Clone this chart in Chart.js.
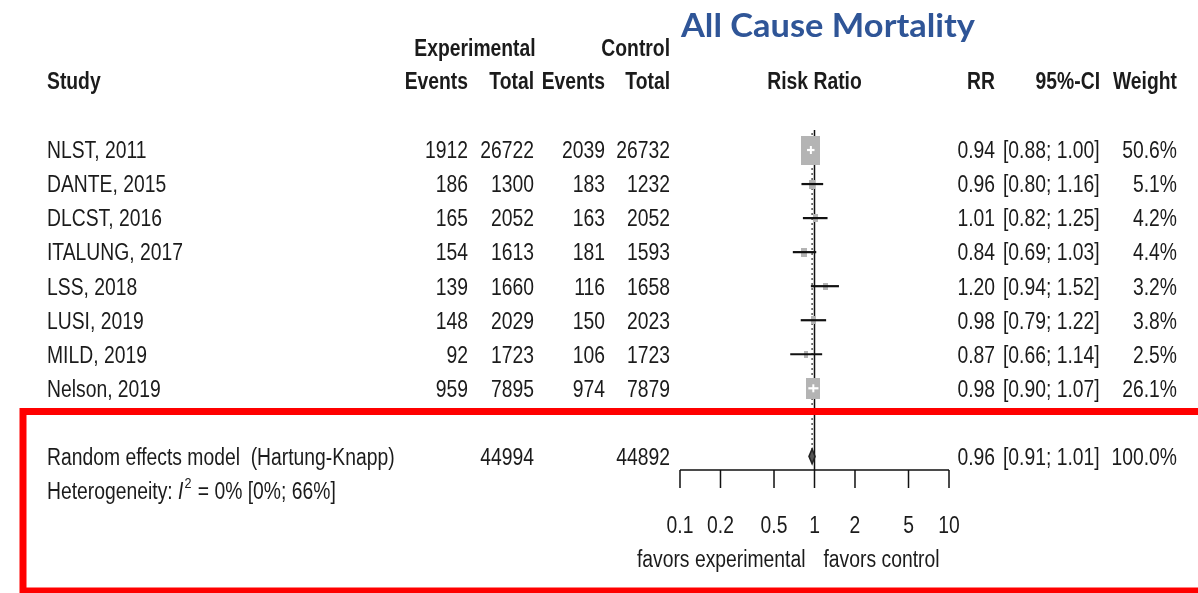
<!DOCTYPE html>
<html>
<head>
<meta charset="utf-8">
<script src="https://cdn.jsdelivr.net/npm/chart.js@4.4.1/dist/chart.umd.min.js"></script>
<style>
  html, body { margin: 0; padding: 0; background: #fff; }
  #wrap { width: 1198px; height: 593px; position: relative; }
</style>
</head>
<body>
<div id="wrap"><canvas id="forest" width="1198" height="593"></canvas></div>
<script>
// ---- study data ----
const studies   = ['NLST, 2011', 'DANTE, 2015', 'DLCST, 2016', 'ITALUNG, 2017', 'LSS, 2018', 'LUSI, 2019', 'MILD, 2019', 'Nelson, 2019'];
const expEvents = [1912, 186, 165, 154, 139, 148, 92, 959];
const expTotal  = [26722, 1300, 2052, 1613, 1660, 2029, 1723, 7895];
const ctlEvents = [2039, 183, 163, 181, 116, 150, 106, 974];
const ctlTotal  = [26732, 1232, 2052, 1593, 1658, 2023, 1723, 7879];
const rr        = [0.94, 0.96, 1.01, 0.84, 1.20, 0.98, 0.87, 0.98];
const ciLower   = [0.88, 0.80, 0.82, 0.69, 0.94, 0.79, 0.66, 0.90];
const ciUpper   = [1.00, 1.16, 1.25, 1.03, 1.52, 1.22, 1.14, 1.07];
const weights   = [50.6, 5.1, 4.2, 4.4, 3.2, 3.8, 2.5, 26.1];

// ---- pooled (random effects, Hartung-Knapp) ----
const pooledLabel   = 'Random effects model  (Hartung-Knapp)';
const pooledTotals  = [44994, 44892];
const pooledRR      = [0.96];
const pooledCI      = [0.91, 1.01];
const pooledWeight  = [100.0];
const heterogeneity = [0, 0, 66]; // I^2, lower, upper (%)

// ---- axis ----
const tickValues  = [0.1, 0.2, 0.5, 1, 2, 5, 10];
const favorLabels = ['favors experimental', 'favors control'];
const chartTitle  = 'All Cause Mortality';

// ---- layout / style ----
const FONT = '"Liberation Sans", Arial, sans-serif';
const FS = 23;          // body font size
const SX = 0.84;        // horizontal condensation of the table font
const TY = 2;           // baseline nudge for table text
const INK = '#1b1b1b';
const SQUARE_GRAY = '#b4b4b4';
const POOLED_ROW = 10, HET_ROW = 11, HEAD1_ROW = -2, HEAD2_ROW = -1.05, TICK_ROW = 12, FAVOR_ROW = 13;

function squareSize(w) {
  const side = 2.67 * Math.sqrt(w);
  return { w: side, h: side * 1.55 };
}

// square markers as canvases used for point styles
const squareImages = weights.map(w => {
  const s = squareSize(w);
  const c = document.createElement('canvas');
  c.width = Math.round(s.w); c.height = Math.round(s.h);
  const g = c.getContext('2d');
  g.fillStyle = SQUARE_GRAY;
  g.fillRect(0, 0, c.width, c.height);
  return c;
});

function ciInsideSquare(xs, i) {
  const cx = xs.getPixelForValue(rr[i]);
  const hw = squareSize(weights[i]).w / 2;
  return xs.getPixelForValue(ciLower[i]) >= cx - hw && xs.getPixelForValue(ciUpper[i]) <= cx + hw;
}

// CI segments, separated by gap points
const ciData = [];
studies.forEach((s, i) => {
  ciData.push({ x: ciLower[i], y: i + 1 }, { x: ciUpper[i], y: i + 1 }, { x: 1, y: null });
});

function txt(ctx, s, x, y, align, font) {
  ctx.save();
  ctx.font = font || (FS + 'px ' + FONT);
  ctx.fillStyle = INK;
  ctx.textBaseline = 'middle';
  ctx.textAlign = align;
  ctx.translate(x, y + TY);
  ctx.scale(SX, 1);
  ctx.fillText(s, 0, 0);
  ctx.restore();
}
function width(ctx, s, font) {
  ctx.save(); ctx.font = font; const w = ctx.measureText(s).width * SX; ctx.restore(); return w;
}

const COL = { study: 47, expEv: 468, expTot: 534, ctlEv: 605, ctlTot: 670, rr: 995, ci: 1003, wt: 1177 };

const forestPlugin = {
  id: 'forest',
  beforeDatasetsDraw(chart) {
    const { ctx, scales: { x, y }, chartArea } = chart;
    ctx.save();
    // line of no effect
    ctx.strokeStyle = '#111';
    ctx.lineWidth = 1.5;
    ctx.beginPath();
    ctx.moveTo(x.getPixelForValue(1), chartArea.top - 3);
    ctx.lineTo(x.getPixelForValue(1), chartArea.bottom);
    ctx.stroke();
    // pooled estimate line
    ctx.strokeStyle = '#555';
    ctx.setLineDash([2, 3]);
    ctx.beginPath();
    ctx.moveTo(x.getPixelForValue(pooledRR[0]), chartArea.top);
    ctx.lineTo(x.getPixelForValue(pooledRR[0]), y.getPixelForValue(POOLED_ROW - 0.22));
    ctx.stroke();
    ctx.restore();
  },
  afterDatasetsDraw(chart) {
    const { ctx, scales: { x, y }, chartArea } = chart;
    const bold = 'bold ' + FS + 'px ' + FONT;
    const reg = FS + 'px ' + FONT;

    // white estimate tick inside the large squares
    ctx.save();
    ctx.strokeStyle = '#ffffff';
    ctx.lineWidth = 2;
    rr.forEach((v, i) => {
      if (!ciInsideSquare(x, i)) return;
      const px = x.getPixelForValue(v), py = y.getPixelForValue(i + 1);
      ctx.beginPath();
      ctx.moveTo(px, py - 4);
      ctx.lineTo(px, py + 4);
      ctx.stroke();
    });
    ctx.restore();

    // pooled diamond
    const yc = y.getPixelForValue(POOLED_ROW);
    const dh = y.getPixelForValue(POOLED_ROW + 0.22) - yc;
    ctx.save();
    ctx.beginPath();
    ctx.moveTo(x.getPixelForValue(pooledCI[0]), yc);
    ctx.lineTo(x.getPixelForValue(pooledRR[0]), yc - dh);
    ctx.lineTo(x.getPixelForValue(pooledCI[1]), yc);
    ctx.lineTo(x.getPixelForValue(pooledRR[0]), yc + dh);
    ctx.closePath();
    ctx.fillStyle = '#555';
    ctx.fill();
    ctx.strokeStyle = '#222';
    ctx.lineWidth = 1.5;
    ctx.stroke();
    ctx.restore();

    // x axis
    const ay = chartArea.bottom;
    ctx.save();
    ctx.strokeStyle = '#111';
    ctx.lineWidth = 1.5;
    ctx.beginPath();
    ctx.moveTo(x.getPixelForValue(tickValues[0]), ay);
    ctx.lineTo(x.getPixelForValue(tickValues[tickValues.length - 1]), ay);
    tickValues.forEach(v => {
      const px = x.getPixelForValue(v);
      ctx.moveTo(px, ay);
      ctx.lineTo(px, ay + 18);
    });
    ctx.stroke();
    ctx.restore();
    tickValues.forEach(v => txt(ctx, String(v), x.getPixelForValue(v), y.getPixelForValue(TICK_ROW), 'center', reg));
    txt(ctx, favorLabels[0], x.getPixelForValue(1) - 9, y.getPixelForValue(FAVOR_ROW), 'right', reg);
    txt(ctx, favorLabels[1], x.getPixelForValue(1) + 9, y.getPixelForValue(FAVOR_ROW), 'left', reg);

    // headers
    const h1 = y.getPixelForValue(HEAD1_ROW), h2 = y.getPixelForValue(HEAD2_ROW);
    txt(ctx, 'Experimental', 475, h1, 'center', bold);
    txt(ctx, 'Control', COL.ctlTot, h1, 'right', bold);
    txt(ctx, 'Study', COL.study, h2, 'left', bold);
    txt(ctx, 'Events', COL.expEv, h2, 'right', bold);
    txt(ctx, 'Total', COL.expTot, h2, 'right', bold);
    txt(ctx, 'Events', COL.ctlEv, h2, 'right', bold);
    txt(ctx, 'Total', COL.ctlTot, h2, 'right', bold);
    txt(ctx, 'Risk Ratio', x.getPixelForValue(1), h2, 'center', bold);
    txt(ctx, 'RR', COL.rr, h2, 'right', bold);
    txt(ctx, '95%-CI', COL.ci + 97, h2, 'right', bold);
    txt(ctx, 'Weight', COL.wt, h2, 'right', bold);

    // study rows
    studies.forEach((s, i) => {
      const py = y.getPixelForValue(i + 1);
      txt(ctx, s, COL.study, py, 'left', reg);
      txt(ctx, String(expEvents[i]), COL.expEv, py, 'right', reg);
      txt(ctx, String(expTotal[i]), COL.expTot, py, 'right', reg);
      txt(ctx, String(ctlEvents[i]), COL.ctlEv, py, 'right', reg);
      txt(ctx, String(ctlTotal[i]), COL.ctlTot, py, 'right', reg);
      txt(ctx, rr[i].toFixed(2), COL.rr, py, 'right', reg);
      txt(ctx, '[' + ciLower[i].toFixed(2) + '; ' + ciUpper[i].toFixed(2) + ']', COL.ci, py, 'left', reg);
      txt(ctx, weights[i].toFixed(1) + '%', COL.wt, py, 'right', reg);
    });

    // pooled row
    txt(ctx, pooledLabel, COL.study, yc, 'left', reg);
    txt(ctx, String(pooledTotals[0]), COL.expTot, yc, 'right', reg);
    txt(ctx, String(pooledTotals[1]), COL.ctlTot, yc, 'right', reg);
    txt(ctx, pooledRR[0].toFixed(2), COL.rr, yc, 'right', reg);
    txt(ctx, '[' + pooledCI[0].toFixed(2) + '; ' + pooledCI[1].toFixed(2) + ']', COL.ci, yc, 'left', reg);
    txt(ctx, pooledWeight[0].toFixed(1) + '%', COL.wt, yc, 'right', reg);

    // heterogeneity
    const hy = y.getPixelForValue(HET_ROW);
    let hx = COL.study;
    const p1 = 'Heterogeneity: ';
    txt(ctx, p1, hx, hy, 'left', reg); hx += width(ctx, p1, reg);
    const it = 'italic ' + reg;
    txt(ctx, 'I', hx, hy, 'left', it); hx += width(ctx, 'I', it) + 1;
    const sup = '15px ' + FONT;
    txt(ctx, '2', hx, hy - 9, 'left', sup); hx += width(ctx, '2', sup) + 1;
    txt(ctx, ' = ' + heterogeneity[0] + '% [' + heterogeneity[1] + '%; ' + heterogeneity[2] + '%]', hx, hy, 'left', reg);

    // title
    ctx.save();
    ctx.font = 'bold 32px Lato, "Open Sans", sans-serif';
    ctx.fillStyle = '#2F5597';
    ctx.textBaseline = 'middle';
    ctx.textAlign = 'left';
    const tw = ctx.measureText(chartTitle).width;
    ctx.translate(681, 27);
    ctx.scale(294 / tw, 1);
    ctx.fillText(chartTitle, 0, 0);
    ctx.restore();

    // highlight frame round the pooled result
    ctx.save();
    ctx.strokeStyle = '#FF0000';
    ctx.lineWidth = 7;
    ctx.strokeRect(23, 411.5, 1230, 179.5);
    ctx.restore();
  }
};

new Chart(document.getElementById('forest'), {
  type: 'scatter',
  data: {
    datasets: [
      {
        label: 'CI',
        data: ciData,
        showLine: true,
        spanGaps: false,
        pointRadius: 0,
        borderWidth: 2.2,
        borderColor: '#111',
        clip: false,
        order: 1,
        segment: {
          borderColor: c => ciInsideSquare(c.chart.scales.x, Math.floor(c.p0DataIndex / 3)) ? '#ffffff' : '#111'
        }
      },
      {
        label: 'Estimate',
        data: rr.map((v, i) => ({ x: v, y: i + 1 })),
        pointStyle: squareImages,
        pointRadius: 3,
        clip: false,
        order: 2
      }
    ]
  },
  options: {
    responsive: false,
    animation: false,
    events: [],
    layout: { padding: { left: 680, right: 249, top: 133, bottom: 123 } },
    plugins: { legend: { display: false }, tooltip: { enabled: false }, title: { display: false } },
    scales: {
      x: { type: 'logarithmic', min: 0.1, max: 10, display: false },
      y: { type: 'linear', min: 0.5, max: 10.4, reverse: true, display: false }
    }
  },
  plugins: [forestPlugin]
});
</script>
</body>
</html>
